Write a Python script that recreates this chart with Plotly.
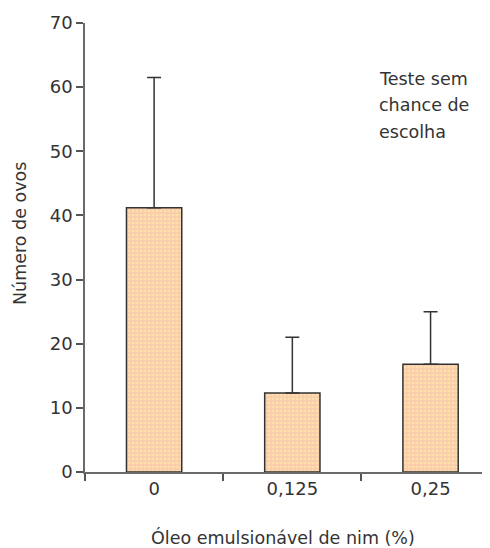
import plotly.graph_objects as go

categories = ["0", "0,125", "0,25"]
means = [41.2, 12.3, 16.8]
err_plus = [20.3, 8.7, 8.2]
y_ticks = [0, 10, 20, 30, 40, 50, 60, 70]
note_lines = ["Teste sem", "chance de", "escolha"]

FONT = "DejaVu Sans"
TXT = "#333333"
OFF = 8  # page body margin
W, H = 490 - OFF, 548 - OFF
L, R, T = 85 - OFF, 0, 23 - OFF
B = H - (472 - OFF)
PW, PH = W - L - R, H - T - B

fig = go.Figure()
fig.add_trace(go.Bar(
    x=categories, y=means, width=0.4,
    marker=dict(color="#FCD8B2", line=dict(color="#333333", width=1.5),
                pattern=dict(shape="+", fgcolor="#F3B5AE", bgcolor="#FEE0AA", size=4, solidity=0.55)),
    error_y=dict(type="data", symmetric=False, array=err_plus, arrayminus=[0, 0, 0],
                 color="#333333", thickness=1.5, width=7),
    showlegend=False,
))

annotations = []
for i, line in enumerate(note_lines):
    annotations.append(dict(
        text=line, x=(377 - OFF - L) / PW, xref="paper", y=61.3 - 4.15 * i, yref="y",
        showarrow=False, xanchor="left", yanchor="middle",
        font=dict(size=17.5, color=TXT),
    ))
annotations.append(dict(
    text="Número de ovos", textangle=-90, x=(20 - OFF - L) / PW, xref="paper",
    y=(472 - 234) / PH, yref="paper", showarrow=False,
    xanchor="center", yanchor="middle", font=dict(size=17.5, color=TXT),
))
annotations.append(dict(
    text="Óleo emulsionável de nim (%)", x=(283 - OFF - L) / PW, xref="paper",
    y=(472 - 537) / PH, yref="paper", showarrow=False,
    xanchor="center", yanchor="middle", font=dict(size=17.5, color=TXT),
))

fig.update_layout(
    width=W, height=H,
    margin=dict(l=L, r=R, t=T, b=B, autoexpand=False),
    paper_bgcolor="white", plot_bgcolor="white",
    font=dict(family=FONT, size=18, color=TXT),
    xaxis=dict(
        range=[-0.5, 2.43], showline=True, linecolor="#6a6a6a", linewidth=1.5,
        ticks="outside", tickson="boundaries", ticklen=7, tickcolor="#555555", tickwidth=1.5,
        showgrid=False, zeroline=False, automargin=False,
        tickfont=dict(size=18),
    ),
    yaxis=dict(
        range=[0, 70], tickvals=y_ticks, showline=True, linecolor="#6a6a6a", linewidth=1.5,
        ticks="outside", ticklen=7, tickcolor="#555555", tickwidth=1.5,
        showgrid=False, zeroline=False, automargin=False,
        tickfont=dict(size=18),
    ),
    annotations=annotations,
)
fig.write_html("out.html")
